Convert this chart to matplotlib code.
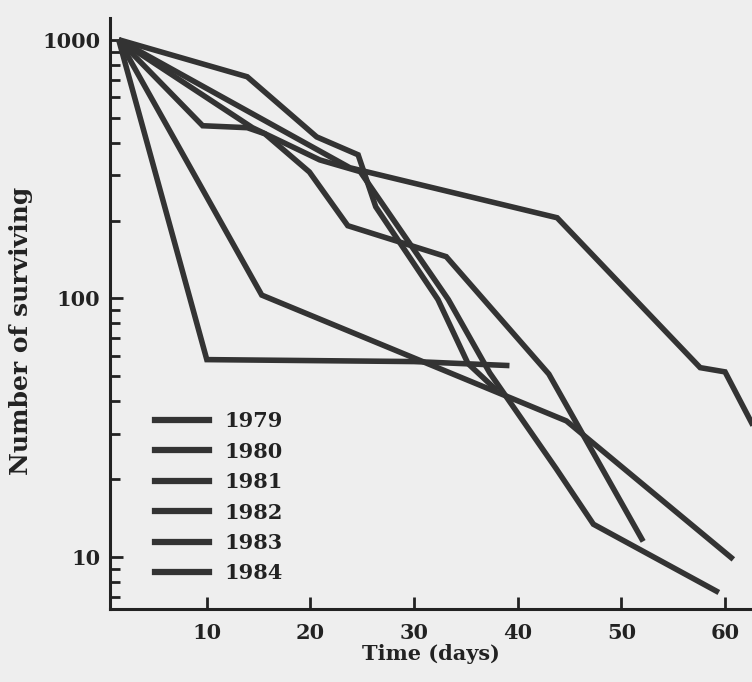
import matplotlib
matplotlib.use("Agg")
import matplotlib.pyplot as plt
from matplotlib.lines import Line2D

# Survivorship data (days, number surviving)
years = ["1979", "1980", "1981", "1982", "1983", "1984"]

days_1979 = [1.5, 13.9, 20.6, 24.6, 26.3, 32.3, 35.2, 38.0]
surv_1979 = [1000, 719, 421, 359, 226, 99, 56, 44]

days_1980 = [1.5, 23.8, 43.8, 57.6, 60.0, 63.5]
surv_1980 = [1000, 320, 205, 54, 52, 28]

days_1981 = [1.5, 9.6, 13.9, 15.6, 19.9, 23.6, 33.1, 43.0, 52.1]
surv_1981 = [1000, 465, 457, 433, 308, 191, 145, 51, 11.5]

days_1982 = [1.5, 14.4, 20.9, 24.8, 33.3, 37.3, 43.7, 47.3, 59.4]
surv_1982 = [1000, 457, 343, 309, 99, 51.5, 22, 13.4, 7.3]

days_1983 = [1.5, 15.3, 44.7, 60.8]
surv_1983 = [1000, 103, 33.6, 9.8]

days_1984 = [1.5, 10.0, 30.0, 39.2]
surv_1984 = [1000, 58, 57, 55]

series_days = [days_1979, days_1980, days_1981, days_1982, days_1983, days_1984]
series_surv = [surv_1979, surv_1980, surv_1981, surv_1982, surv_1983, surv_1984]

x_ticks = [10, 20, 30, 40, 50, 60]
y_ticks = [10, 100, 1000]

LINE = "#333333"
BG = "#eeeeee"
FONT = "DejaVu Serif"

fig = plt.figure(figsize=(7.52, 6.82), dpi=100, facecolor=BG)
ax = fig.add_axes([0.146, 0.107, 0.854, 0.867])
ax.set_facecolor(BG)

for d, s in zip(series_days, series_surv):
    ax.plot(d, s, color=LINE, lw=4.0, solid_joinstyle="miter", solid_capstyle="butt")

ax.set_yscale("log")
ax.set_xlim(0.64, 62.6)
ax.set_ylim(6.3, 1216)

ax.set_xticks(x_ticks)
ax.set_xticklabels([str(v) for v in x_ticks])
ax.set_yticks(y_ticks)
ax.set_yticklabels([str(v) for v in y_ticks])

for sp in ["top", "right"]:
    ax.spines[sp].set_visible(False)
for sp in ["left", "bottom"]:
    ax.spines[sp].set_linewidth(2.2)
    ax.spines[sp].set_color("#222222")

ax.tick_params(axis="both", which="major", direction="in", length=9, width=2.0,
               color="#222222", labelsize=15, labelcolor="#222222")
ax.tick_params(axis="y", which="minor", direction="in", length=7, width=2.0, color="#222222")
ax.tick_params(axis="x", which="major", pad=10)
ax.tick_params(axis="y", which="major", pad=7)
for lab in ax.get_xticklabels() + ax.get_yticklabels():
    lab.set_family(FONT)
    lab.set_fontweight("bold")

ax.set_xlabel("Time (days)", family=FONT, fontsize=15, fontweight="bold", color="#222222", labelpad=1)
ax.set_ylabel("Number of surviving", family=FONT, fontsize=18, fontweight="bold", color="#222222")
ax.yaxis.set_label_coords(-0.12, 0.47)

handles = [Line2D([0], [0], color=LINE, lw=4.5) for _ in years]
leg = ax.legend(handles, years, loc="upper left", bbox_to_anchor=(0.041, 0.366),
                frameon=False, handlelength=2.6, handletextpad=0.75, labelspacing=0.5,
                prop={"family": FONT, "size": 15, "weight": "bold"})
for t in leg.get_texts():
    t.set_color("#222222")

fig.savefig("out.png", dpi=100, facecolor=BG)
